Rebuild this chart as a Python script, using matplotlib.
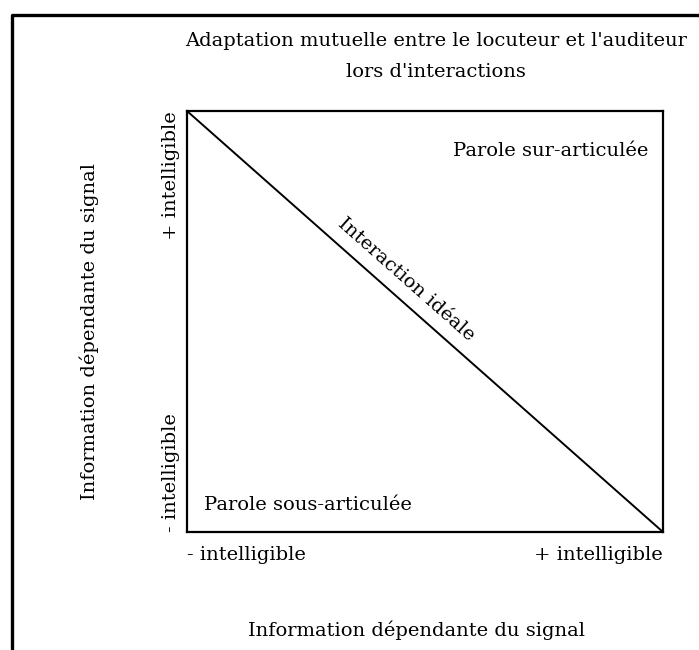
import matplotlib.pyplot as plt
from matplotlib.lines import Line2D

plt.rcParams['font.family'] = 'DejaVu Serif'

# diagonal "ideal interaction" line
line_x = [0, 1]
line_y = [1, 0]

tick_pos = [0, 1]
x_tick_labels = ['- intelligible', '+ intelligible']
y_tick_labels = ['- intelligible', '+ intelligible']

title = "Adaptation mutuelle entre le locuteur et l'auditeur\nlors d'interactions"
axis_label = 'Information dépendante du signal'
diag_label = 'Interaction idéale'
upper_label = 'Parole sur-articulée'
lower_label = 'Parole sous-articulée'

W, H = 699, 650
fig = plt.figure(figsize=(W / 100, H / 100), dpi=100)

def fx(px):
    return px / W

def fy(py):
    return 1 - py / H

ax = fig.add_axes([fx(187), fy(532), fx(663) - fx(187), fy(111) - fy(532)])
ax.plot(line_x, line_y, color='black', lw=1.4, solid_capstyle='butt')
ax.set_xlim(0, 1)
ax.set_ylim(0, 1)
for sp in ax.spines.values():
    sp.set_linewidth(1.6)

ax.set_xticks(tick_pos)
ax.set_xticklabels(x_tick_labels, fontsize=14)
ax.set_yticks(tick_pos)
ax.set_yticklabels(y_tick_labels, fontsize=14, rotation=90)
ax.tick_params(axis='x', length=0, pad=10)
ax.tick_params(axis='y', length=0, pad=5)
xt = ax.get_xticklabels()
xt[0].set_ha('left')
xt[1].set_ha('right')
yt = ax.get_yticklabels()
yt[0].set_va('bottom')
yt[1].set_va('top')

ax.text(0.97, 0.905, upper_label, ha='right', va='center', fontsize=14,
        transform=ax.transAxes)
ax.text(0.035, 0.065, lower_label, ha='left', va='center', fontsize=14,
        transform=ax.transAxes)
ax.text(0.46, 0.6, diag_label, ha='center', va='center', fontsize=14,
        rotation=-41.5, rotation_mode='anchor', transform=ax.transAxes)

fig.text(fx(436), fy(56.5), title, ha='center', va='center', fontsize=14,
         linespacing=1.95)
fig.text(fx(89), fy(331), axis_label, ha='center', va='center', fontsize=14,
         rotation=90)
fig.text(fx(417), fy(630), axis_label, ha='center', va='center', fontsize=14)

# outer frame, cut at right and bottom
fig.add_artist(Line2D([fx(12), fx(12), 1.0], [0.0, fy(15), fy(15)],
                      transform=fig.transFigure, color='black', lw=2.4))

fig.savefig('out.png', dpi=100)
